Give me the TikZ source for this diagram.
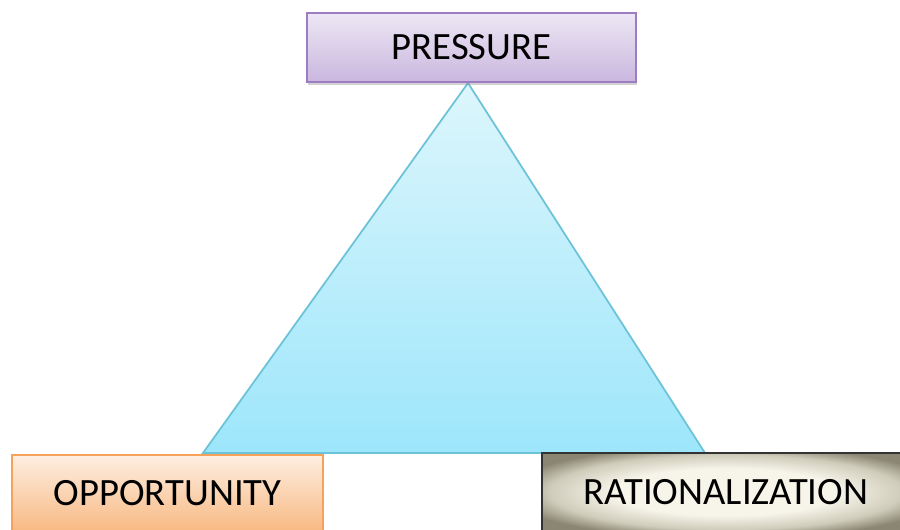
\documentclass[tikz,border=0pt]{standalone}
\usepackage{fontspec}
\setmainfont{Carlito}
\usetikzlibrary{shadows}
\definecolor{lilac}{HTML}{9E7CC4}
\definecolor{peach}{HTML}{F6A25A}
\definecolor{sky}{HTML}{6CC3D8}
\definecolor{skytop}{HTML}{DDF6FC}
\definecolor{skybottom}{HTML}{9DE6FB}
\definecolor{stonelight}{HTML}{F7F5EA}
\definecolor{stonemid}{HTML}{CFCCBB}
\definecolor{stonedark}{HTML}{8A8673}
\pgfdeclareradialshading{stone}{\pgfpoint{0bp}{0bp}}{%
  color(0bp)=(stonelight); color(15bp)=(stonelight);
  color(24bp)=(stonemid); color(30bp)=(stonedark); color(50bp)=(stonedark)}
\tikzset{box/.style = {draw, line width=0.8pt, inner sep=0,
                       font=\fontsize{22}{26}\selectfont,
                       drop shadow={shadow xshift=0.02cm, shadow yshift=-0.07cm, opacity=0.35}}}
\tikzset{pressurebox/.style = {box, draw=lilac, top color=lilac!18!white, bottom color=lilac!55!white,
                               minimum width=6.58cm, minimum height=1.38cm}}
\tikzset{oppbox/.style = {box, draw=peach, top color=peach!18!white, bottom color=peach!75!white,
                          minimum width=6.22cm, minimum height=1.52cm}}
\tikzset{ratbox/.style = {box, draw=black!80, shading=stone,
                          minimum width=7.36cm, minimum height=1.56cm}}

\begin{document}
\begin{tikzpicture}[x=0.02cm, y=-0.02cm]
      \clip (0, 0) rectangle (900, 530);
      \fill [white] (0, 0) rectangle (900, 530);
      \coordinate (top) at (468, 83);
      \coordinate (left) at (203, 453);
      \coordinate (right) at (705, 453);
      \draw [sky, line width=1pt, top color=skytop, bottom color=skybottom]
            (top) -- (left) -- (right) -- cycle;
      \node (pressure) at (471.5, 47.5) [pressurebox] {PRESSURE};
      \node (opportunity) at (167.5, 493) [oppbox] {OPPORTUNITY};
      \node (rationalization) at (726, 492) [ratbox] {RATIONALIZATION};
    \end{tikzpicture}
\end{document}
